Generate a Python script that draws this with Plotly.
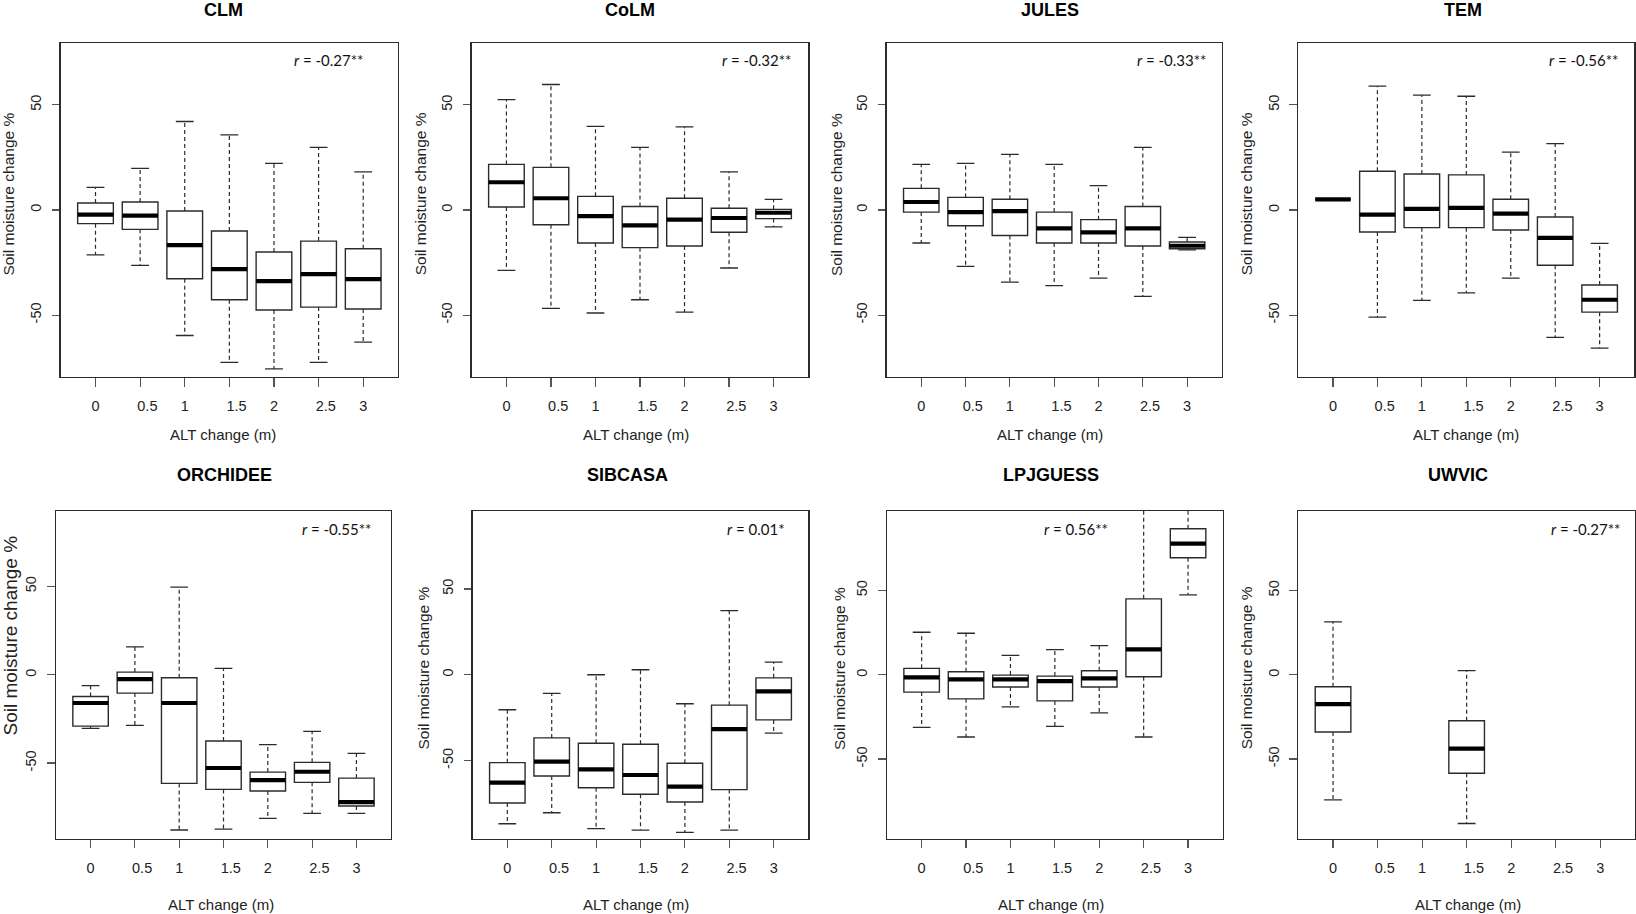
import plotly.graph_objects as go

# ---------------- data ----------------
alt_labels = ["0", "0.5", "1", "1.5", "2", "2.5", "3"]
positions = [1, 2, 3, 4, 5, 6, 7]

models = ["CLM", "CoLM", "JULES", "TEM", "ORCHIDEE", "SIBCASA", "LPJGUESS", "UWVIC"]
r_values = ["-0.27**", "-0.32**", "-0.33**", "-0.56**", "-0.55**", "0.01*", "0.56**", "-0.27**"]

clm_lower = [-21.3, -26.3, -59.7, -72.5, -75.6, -72.5, -62.9]
clm_q1 = [-6.5, -9.2, -32.7, -42.7, -47.6, -46.2, -47.1]
clm_med = [-2.2, -2.7, -16.7, -28.1, -33.8, -30.5, -32.9]
clm_q3 = [3.3, 3.8, -0.5, -10.0, -20.0, -14.8, -18.4]
clm_upper = [10.8, 19.8, 42.1, 35.7, 22.2, 29.8, 18.1]

colm_lower = [-28.7, -46.8, -49.0, -42.7, -48.6, -27.6, -8.0]
colm_q1 = [1.4, -7.0, -15.7, -17.9, -17.1, -10.6, -4.1]
colm_med = [13.2, 5.6, -2.9, -7.3, -4.6, -3.8, -1.3]
colm_q3 = [21.7, 20.3, 6.5, 1.7, 5.6, 0.8, 0.3]
colm_upper = [52.5, 59.7, 39.8, 29.8, 39.5, 18.1, 5.1]

jules_lower = [-15.7, -26.8, -34.3, -36.0, -32.4, -41.1, -19.0]
jules_q1 = [-1.0, -7.5, -12.1, -15.7, -15.7, -17.1, -18.4]
jules_med = [3.8, -1.0, -0.5, -8.7, -10.6, -8.7, -17.0]
jules_q3 = [10.3, 6.0, 5.1, -1.0, -4.6, 1.7, -15.2]
jules_upper = [21.7, 22.2, 26.5, 21.7, 11.6, 29.8, -13.0]

tem_lower = [5.1, -51.0, -43.0, -39.4, -32.4, -60.6, -65.7]
tem_q1 = [5.1, -10.5, -8.4, -8.4, -9.5, -26.3, -48.6]
tem_med = [5.1, -2.2, 0.5, 1.0, -1.7, -13.3, -42.7]
tem_q3 = [5.1, 18.4, 17.1, 16.7, 5.1, -3.3, -35.7]
tem_upper = [5.1, 58.9, 54.6, 54.1, 27.5, 31.6, -15.9]

orchidee_lower = [-30.4, -28.7, -87.9, -87.4, -81.3, -78.5, -78.5]
orchidee_q1 = [-29.1, -10.4, -61.5, -64.9, -65.8, -60.9, -74.3]
orchidee_med = [-16.0, -2.5, -16.0, -52.8, -59.6, -54.9, -72.1]
orchidee_q3 = [-12.3, 1.5, -1.7, -37.5, -55.1, -49.6, -58.5]
orchidee_upper = [-6.2, 15.8, 49.6, 3.6, -39.6, -32.1, -44.5]

sibcasa_lower = [-86.8, -80.4, -89.7, -90.5, -91.8, -90.5, -34.0]
sibcasa_q1 = [-74.7, -59.0, -65.8, -69.6, -74.1, -66.9, -26.3]
sibcasa_med = [-62.8, -50.6, -55.1, -58.4, -65.2, -31.7, -9.7]
sibcasa_q3 = [-51.2, -36.8, -39.9, -40.5, -51.6, -17.7, -1.8]
sibcasa_upper = [-20.4, -10.9, 0.0, 2.9, -16.9, 37.4, 7.4]

lpjguess_lower = [-31.2, -36.9, -19.0, -30.6, -22.6, -36.9, 47.4]
lpjguess_q1 = [-10.3, -14.3, -7.3, -15.5, -7.3, -1.2, 69.4]
lpjguess_med = [-1.6, -2.8, -2.8, -3.8, -2.2, 15.1, 77.7]
lpjguess_q3 = [3.8, 1.8, -0.2, -0.8, 2.4, 45.0, 86.6]
lpjguess_upper = [25.2, 24.6, 11.5, 14.9, 17.3, 105.0, 110.0]

uwvic_lower = [-74.3, None, None, -88.3, None, None, None]
uwvic_q1 = [-34.0, None, None, -58.5, None, None, None]
uwvic_med = [-17.4, None, None, -43.9, None, None, None]
uwvic_q3 = [-7.1, None, None, -27.3, None, None, None]
uwvic_upper = [31.4, None, None, 2.4, None, None, None]

stats = [
    (clm_lower, clm_q1, clm_med, clm_q3, clm_upper),
    (colm_lower, colm_q1, colm_med, colm_q3, colm_upper),
    (jules_lower, jules_q1, jules_med, jules_q3, jules_upper),
    (tem_lower, tem_q1, tem_med, tem_q3, tem_upper),
    (orchidee_lower, orchidee_q1, orchidee_med, orchidee_q3, orchidee_upper),
    (sibcasa_lower, sibcasa_q1, sibcasa_med, sibcasa_q3, sibcasa_upper),
    (lpjguess_lower, lpjguess_q1, lpjguess_med, lpjguess_q3, lpjguess_upper),
    (uwvic_lower, uwvic_q1, uwvic_med, uwvic_q3, uwvic_upper),
]

# ---------------- layout geometry (pixels) ----------------
W, H = 1636, 914
box_x = [(60.7, 398), (471.7, 808.3), (886.7, 1221.7), (1298.3, 1634.3),
         (56, 391), (472.7, 808.3), (887, 1222.7), (1298.3, 1635)]
row_y = [(43.3, 376.7), (511, 838.5)]
y_half = [79.3, 79.3, 79.3, 79.3, 92.7, 95.4, 97.1, 97.2]
title_x = [223.3, 629.5, 1049.7, 1463.3, 224.2, 627.5, 1050.8, 1457.5]
title_y = [9.7, 475.0]
xlab_x = [222.7, 636, 1050, 1465.5, 221, 636, 1051, 1468]
xlab_y = [435, 904]
ylab_x = [8.3, 420, 836.7, 1246, 9.5, 422.5, 839, 1246.3]
ylab_yc = [194.3, 194.3, 194.3, 194.3, 636, 668, 668, 668]
ylab_size = [15.5, 15.5, 15.5, 15.5, 19, 15.5, 15.5, 15.5]
r_right = [365, 792.7, 1208, 1620, 373, 786.7, 1110, 1621.7]
r_y = [60, 529.3]

BOXW = 0.8
CAPW = 0.4
AX_FONT = "Liberation Sans, Arial, sans-serif"
LINE_C = "#2b2b2b"

def px(x):
    return x / W

def py(y):
    return 1 - y / H

fig = go.Figure()
annotations = []
layout_axes = {}

for i, name in enumerate(models):
    k = i + 1
    xa = "x" if k == 1 else f"x{k}"
    ya = "y" if k == 1 else f"y{k}"
    row = 0 if i < 4 else 1
    lo, q1, med, q3, hi = stats[i]
    idx = [j for j in range(7) if med[j] is not None]
    pos = [positions[j] for j in idx]

    # boxes
    fig.add_trace(go.Box(
        x=pos,
        q1=[q1[j] for j in idx], median=[med[j] for j in idx], q3=[q3[j] for j in idx],
        lowerfence=[q1[j] for j in idx], upperfence=[q3[j] for j in idx],
        width=BOXW, fillcolor="white", line=dict(color=LINE_C, width=1.4),
        whiskerwidth=0, boxpoints=False, hoverinfo="skip", showlegend=False,
        xaxis=xa, yaxis=ya))

    # dashed whiskers, caps, thick medians
    wx, wy = [], []
    cx, cy = [], []
    mx, my = [], []
    for j in idx:
        p = positions[j]
        wx += [p, p, None, p, p, None]
        wy += [q3[j], hi[j], None, q1[j], lo[j], None]
        cx += [p - CAPW / 2, p + CAPW / 2, None, p - CAPW / 2, p + CAPW / 2, None]
        cy += [hi[j], hi[j], None, lo[j], lo[j], None]
        mx += [p - BOXW / 2, p + BOXW / 2, None]
        my += [med[j], med[j], None]
    fig.add_trace(go.Scatter(x=wx, y=wy, mode="lines",
                             line=dict(color=LINE_C, width=1.2, dash="4px,3px"),
                             hoverinfo="skip", showlegend=False, xaxis=xa, yaxis=ya))
    fig.add_trace(go.Scatter(x=cx, y=cy, mode="lines",
                             line=dict(color=LINE_C, width=1.3),
                             hoverinfo="skip", showlegend=False, xaxis=xa, yaxis=ya))
    fig.add_trace(go.Scatter(x=mx, y=my, mode="lines",
                             line=dict(color="black", width=4.2),
                             hoverinfo="skip", showlegend=False, xaxis=xa, yaxis=ya))

    x0, x1 = box_x[i]
    y0, y1 = row_y[row]
    key_x = "xaxis" if k == 1 else f"xaxis{k}"
    key_y = "yaxis" if k == 1 else f"yaxis{k}"
    layout_axes[key_x] = dict(
        domain=[px(x0), px(x1)], anchor=ya, range=[0.22, 7.78],
        tickmode="array", tickvals=positions,
        ticktext=[("\u2003" + t) if "." in t else t for t in alt_labels],
        ticks="outside", ticklen=8.5, tickwidth=1.2, tickcolor="#555",
        showline=True, mirror=True, linecolor=LINE_C, linewidth=1.4,
        showgrid=False, zeroline=False, ticklabelstandoff=7,
        tickfont=dict(family=AX_FONT, size=14.5, color="#222"))
    yh = y_half[i]
    layout_axes[key_y] = dict(
        domain=[py(y1), py(y0)], anchor=xa, range=[-yh, yh],
        tickmode="array", tickvals=[-50, 0, 50], ticktext=["-50", "0", "50"],
        tickangle=-90, ticks="outside", ticklen=7.5, tickwidth=1.2, tickcolor="#555",
        showline=True, mirror=True, linecolor=LINE_C, linewidth=1.4,
        showgrid=False, zeroline=False, ticklabelstandoff=5,
        tickfont=dict(family=AX_FONT, size=14.5, color="#222"))

    # panel title
    annotations.append(dict(text=f"<b>{name}</b>", x=px(title_x[i]), y=py(title_y[row]),
                            xref="paper", yref="paper", showarrow=False,
                            xanchor="center", yanchor="middle",
                            font=dict(family=AX_FONT, size=18, color="black")))
    # x label
    annotations.append(dict(text="ALT change (m)", x=px(xlab_x[i]), y=py(xlab_y[row]),
                            xref="paper", yref="paper", showarrow=False,
                            xanchor="center", yanchor="middle",
                            font=dict(family=AX_FONT, size=15, color="#222")))
    # y label
    annotations.append(dict(text="Soil moisture change %", x=px(ylab_x[i]), y=py(ylab_yc[i]),
                            xref="paper", yref="paper", showarrow=False, textangle=-90,
                            xanchor="center", yanchor="middle",
                            font=dict(family=AX_FONT, size=ylab_size[i], color="#222")))
    # r value
    annotations.append(dict(text=f"<i>r</i> = {r_values[i]}", x=px(r_right[i]), y=py(r_y[row]),
                            xref="paper", yref="paper", showarrow=False,
                            xanchor="right", yanchor="middle",
                            font=dict(family="Lato, Carlito, sans-serif", size=15, color="#111")))

fig.update_layout(
    width=W, height=H, autosize=False,
    margin=dict(l=0, r=0, t=0, b=0),
    paper_bgcolor="white", plot_bgcolor="white",
    showlegend=False, annotations=annotations,
    **layout_axes)

fig.write_html("out.html",
               config={"displayModeBar": False, "staticPlot": True},
               post_script="document.body.style.margin='0';document.body.style.overflow='hidden';")
